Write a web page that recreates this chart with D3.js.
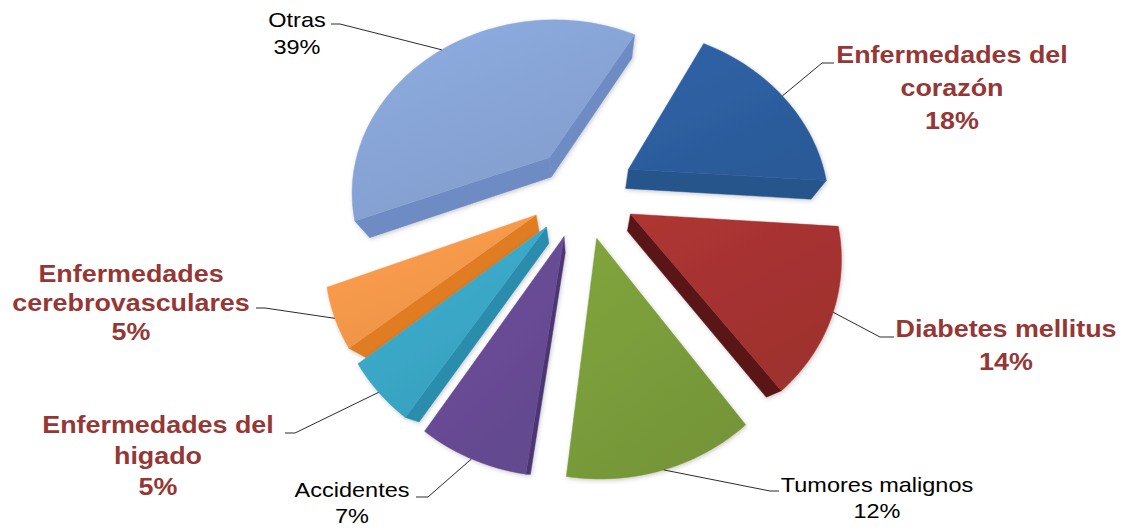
<!DOCTYPE html>
<html>
<head>
<meta charset="utf-8">
<script src="https://cdn.jsdelivr.net/npm/d3@7"></script>
<style>
  html, body { margin: 0; padding: 0; background: #ffffff; }
  svg { display: block; }
</style>
</head>
<body>
<svg id="chart" width="1123" height="529"></svg>
<script>
// ---- data -------------------------------------------------------------
const categories = [
  "Enfermedades del corazón",
  "Diabetes mellitus",
  "Tumores malignos",
  "Accidentes",
  "Enfermedades del higado",
  "Enfermedades cerebrovasculares",
  "Otras"
];
const values = [18, 14, 12, 7, 5, 5, 39];
const labelLines = [
  ["Enfermedades del", "corazón"],
  ["Diabetes mellitus"],
  ["Tumores malignos"],
  ["Accidentes"],
  ["Enfermedades del", "higado"],
  ["Enfermedades", "cerebrovasculares"],
  ["Otras"]
];
const emphasised = [true, true, false, false, true, true, false];

// ---- styling ------------------------------------------------------------
const topColors  = ["#2D5E9F", "#A53230", "#7A9C3A", "#674B94", "#3AA7C6", "#F6984A", "#88A4D6"];
const sideColors = ["#28548C", "#5A1717", "#5E7A2A", "#4C3672", "#2A8DAD", "#E07B22", "#6E8BC3"];
const rimColors  = ["#2A5790", "#7E2322", "#6A8A30", "#57407F", "#3198B8", "#E8862E", "#7A98CC"];

// label placement: text centre, first baseline, line step, leader elbow and end
const labelLayout = [
  { x: 952, y: 63,  step: 33, elbow: [822, 63],  end: [834, 63] },
  { x: 1006, y: 337, step: 33, elbow: [880, 337], end: [894, 337] },
  { x: 877, y: 492, step: 26, elbow: [770, 491], end: [779, 491] },
  { x: 352, y: 497, step: 26, elbow: [428, 497], end: [416, 497] },
  { x: 158, y: 433, step: 31, elbow: [295, 433], end: [285, 433] },
  { x: 131, y: 282, step: 29, elbow: [265, 308], end: [256, 308] },
  { x: 297, y: 27,  step: 27, elbow: [340, 24],  end: [331, 24] }
];

// ---- 3D pie geometry ------------------------------------------------------
const R = 200;          // pie radius
const EXPLODE = 53;     // distance each slice is pulled out
const THICK = 40;       // slice thickness
const PHI = 61 * Math.PI / 180;   // camera elevation
const DIST = 515;       // camera distance
const CX = 583, CY = 191;
const START = 29 * Math.PI / 180;
const cam = [0, DIST * Math.sin(PHI), DIST * Math.cos(PHI)];

function project(p) {
  const [X, Y, Z] = p;
  const zc = DIST - (Z * Math.cos(PHI) + Y * Math.sin(PHI));
  const s = DIST / zc;
  return [CX + X * s, CY + (Z * Math.sin(PHI) - Y * Math.cos(PHI)) * s];
}
function depth(p) {
  const [X, Y, Z] = p;
  return DIST - (Z * Math.cos(PHI) + Y * Math.sin(PHI));
}
function faces(n, p) {
  const v = [cam[0] - p[0], cam[1] - p[1], cam[2] - p[2]];
  return n[0] * v[0] + n[1] * v[1] + n[2] * v[2] > 0;
}

const pie = d3.pie().sort(null).value(d => d)
  .startAngle(START).endAngle(START + 2 * Math.PI);
const arcs = pie(values);

const svg = d3.select("#chart");
const defs = svg.append("defs");

const shadow = defs.append("filter").attr("id", "soft")
  .attr("x", "-10%").attr("y", "-10%").attr("width", "120%").attr("height", "120%");
shadow.append("feDropShadow").attr("dx", 1).attr("dy", 1.5)
  .attr("stdDeviation", 2).attr("flood-color", "#000").attr("flood-opacity", 0.2);

const line = d3.line().curve(d3.curveLinearClosed);

const slices = arcs.map((a, i) => {
  const mid = (a.startAngle + a.endAngle) / 2;
  const off = [EXPLODE * Math.sin(mid), -EXPLODE * Math.cos(mid)];
  const pt = (t, rad, Y) => [off[0] + rad * Math.sin(t), Y, off[1] - rad * Math.cos(t)];
  const steps = Math.max(6, Math.ceil((a.endAngle - a.startAngle) / 0.03));
  const ts = d3.range(steps + 1).map(k => a.startAngle + (a.endAngle - a.startAngle) * k / steps);
  return { a, i, mid, off, pt, ts, key: depth(pt(mid, R * 0.5, 0)) };
});

// farthest slices first
slices.sort((p, q) => q.key - p.key);

slices.forEach(s => {
  const { a, i, pt, ts } = s;
  const g = svg.append("g").attr("class", "slice").attr("filter", "url(#soft)");
  const apexT = pt(0, 0, 0), apexB = pt(0, 0, -THICK);

  // side faces: two radial walls and the outer rim
  const sides = [];
  const a0 = a.startAngle, a1 = a.endAngle;
  sides.push({ n: [-Math.cos(a0), 0, -Math.sin(a0)],
    poly: [apexT, pt(a0, R, 0), pt(a0, R, -THICK), apexB], c: sideColors[i] });
  sides.push({ n: [Math.cos(a1), 0, Math.sin(a1)],
    poly: [apexT, pt(a1, R, 0), pt(a1, R, -THICK), apexB], c: sideColors[i] });
  for (let k = 0; k < ts.length - 1; k++) {
    const tm = (ts[k] + ts[k + 1]) / 2;
    sides.push({ n: [Math.sin(tm), 0, -Math.cos(tm)],
      poly: [pt(ts[k], R, 0), pt(ts[k + 1], R, 0), pt(ts[k + 1], R, -THICK), pt(ts[k], R, -THICK)],
      c: rimColors[i], rim: true });
  }
  sides.forEach(f => {
    const c = f.poly.reduce((m, p) => [m[0] + p[0] / 4, m[1] + p[1] / 4, m[2] + p[2] / 4], [0, 0, 0]);
    f.vis = faces(f.n, c);
    f.d = depth(c);
  });
  sides.filter(f => f.vis).sort((p, q) => q.d - p.d).forEach(f => {
    g.append("path")
      .attr("d", line(f.poly.map(project)))
      .attr("fill", f.c)
      .attr("stroke", f.c).attr("stroke-width", f.rim ? 0.8 : 0.5)
      .attr("stroke-linejoin", "round");
  });

  // top face with a soft light-to-dark gradient
  const gid = "top" + i;
  const base = d3.color(topColors[i]);
  const grad = defs.append("linearGradient").attr("id", gid)
    .attr("x1", 0).attr("y1", 0).attr("x2", 0.6).attr("y2", 1);
  grad.append("stop").attr("offset", 0).attr("stop-color", base.brighter(0.15).formatHex());
  grad.append("stop").attr("offset", 1).attr("stop-color", base.darker(0.12).formatHex());
  const topPoly = [apexT].concat(ts.map(t => pt(t, R, 0)));
  g.append("path")
    .attr("d", line(topPoly.map(project)))
    .attr("fill", `url(#${gid})`)
    .attr("stroke", topColors[i]).attr("stroke-width", 0.5)
    .attr("stroke-linejoin", "round");
});

// ---- leader lines and data labels ---------------------------------------
const leaderLine = d3.line();
slices.forEach(s => {
  const L = labelLayout[s.i];
  const anchor = project(s.pt(s.mid, R, 0));
  svg.append("path")
    .attr("d", leaderLine([anchor, L.elbow, L.end]))
    .attr("fill", "none")
    .attr("stroke", "#2b2b2b")
    .attr("stroke-width", 1);
});

arcs.forEach((a, i) => {
  const L = labelLayout[i];
  const lines = labelLines[i].concat([values[i] + "%"]);
  const bold = emphasised[i];
  const g = svg.append("g")
    .attr("transform", `translate(${L.x},${L.y}) scale(1.12,1)`);
  g.selectAll("text").data(lines).join("text")
    .attr("x", 0)
    .attr("y", (d, k) => k * L.step)
    .attr("text-anchor", "middle")
    .attr("font-family", "'Liberation Sans', Arial, sans-serif")
    .attr("font-size", bold ? 24 : 21)
    .attr("font-weight", bold ? "bold" : "normal")
    .attr("fill", bold ? "#953735" : "#000000")
    .text(d => d);
});
</script>
</body>
</html>
